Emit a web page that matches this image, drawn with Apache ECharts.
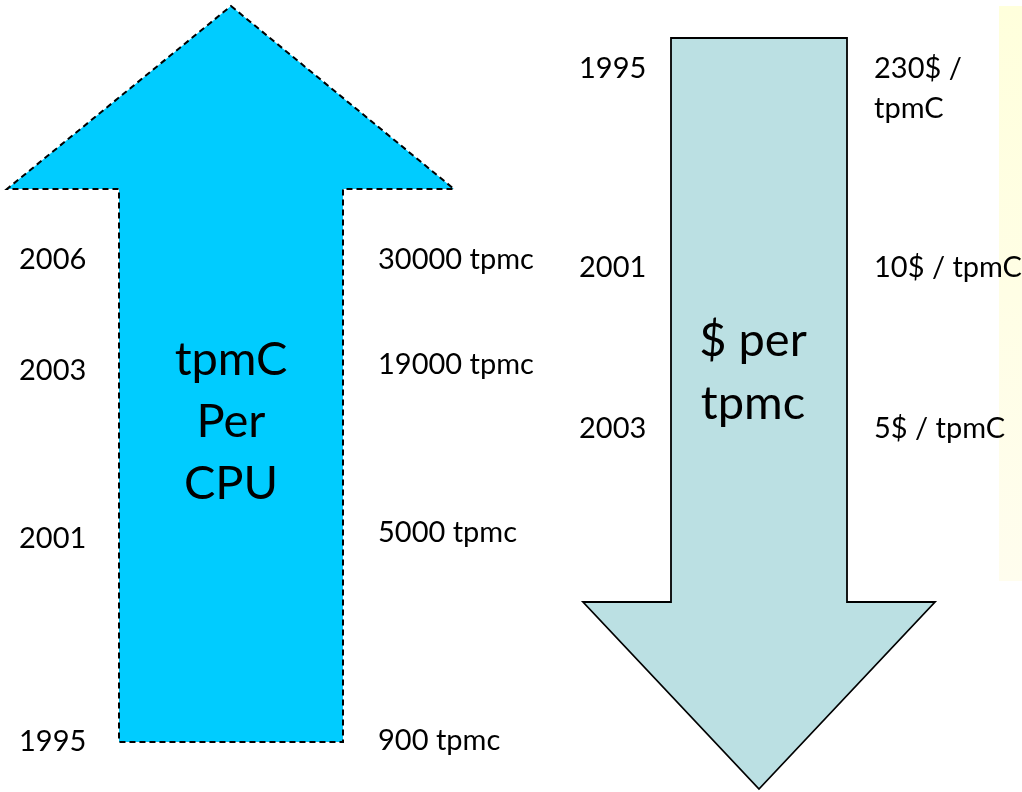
<!DOCTYPE html>
<html>
<head>
<meta charset="utf-8">
<script src="https://cdn.jsdelivr.net/npm/echarts@6/dist/echarts.min.js"></script>
<style>
  html, body { margin: 0; padding: 0; background: #ffffff; }
  #chart { width: 1022px; height: 792px; }
</style>
</head>
<body>
<div id="chart"></div>
<script>
// Throughput per CPU (tpmC) by year
const cpuYears = ['2006', '2003', '2001', '1995'];
const cpuTpmc = [30000, 19000, 5000, 900];

// Price per tpmC (USD) by year
const costYears = ['1995', '2001', '2003'];
const costPerTpmc = [230, 10, 5];

// Titles written inside the arrows
const cpuTitle = ['tpmC', 'Per', 'CPU'];
const costTitle = ['$ per', 'tpmc'];

// Layout (canvas units on a hidden 1022 x 792 grid)
const cpuRowY = [260, 371, 539, 742];
const cpuValueRowY = [260, 365, 533, 741];
const costRowY = [69, 268, 429];

const upArrow = { tipX: 231, tipY: 6, headY: 189, headL: 7, headR: 454, shaftL: 119, shaftR: 343, tailY: 742 };
const downArrow = { tipX: 759, tipY: 789, headY: 602, headL: 583, headR: 935, shaftL: 671, shaftR: 847, tailY: 38 };

const FONT = 'Lato, "Open Sans", sans-serif';

function arrowPoints(a) {
  return [
    [a.tipX, a.tipY], [a.headR, a.headY], [a.shaftR, a.headY], [a.shaftR, a.tailY],
    [a.shaftL, a.tailY], [a.shaftL, a.headY], [a.headL, a.headY]
  ];
}

const arrows = [
  { pts: arrowPoints(upArrow), fill: '#00CCFF', dash: [6, 4], width: 2 },
  { pts: arrowPoints(downArrow), fill: '#BBE0E3', dash: null, width: 1.8 }
];

const cpuValueText = cpuTpmc.map(v => v + ' tpmc');
const costValueText = costPerTpmc.map((v, i) => i === 0 ? v + '$ /\ntpmC' : v + '$ / tpmC');

// Text items: [x, y, text, align, size, lineHeight]
const textItems = [];
cpuYears.forEach((y, i) => textItems.push([19, cpuRowY[i], y, 'left', 29, 34]));
cpuValueText.forEach((t, i) => textItems.push([378, cpuValueRowY[i], t, 'left', 29, 34]));
costYears.forEach((y, i) => textItems.push([579, costRowY[i], y, 'left', 29, 34]));
costValueText.forEach((t, i) => textItems.push([874, i === 0 ? costRowY[i] + 20 : costRowY[i], t, 'left', 29, 40]));
textItems.push([231, 422, cpuTitle.join('\n'), 'center', 47, 62]);
textItems.push([753, 372, costTitle.join('\n'), 'center', 47, 63]);

const chart = echarts.init(document.getElementById('chart'), null, { renderer: 'canvas' });

chart.setOption({
  backgroundColor: '#ffffff',
  animation: false,
  grid: { left: 0, right: 0, top: 0, bottom: 0 },
  xAxis: { type: 'value', min: 0, max: 1022, show: false },
  yAxis: { type: 'value', min: 0, max: 792, inverse: true, show: false },
  series: [
    {
      // pale yellow strip at the right edge
      type: 'custom',
      coordinateSystem: 'cartesian2d',
      data: [[999, 6, 1022, 581]],
      silent: true,
      z: 1,
      renderItem: function (params, api) {
        const p0 = api.coord([api.value(0), api.value(1)]);
        const p1 = api.coord([api.value(2), api.value(3)]);
        return {
          type: 'rect',
          shape: { x: p0[0], y: p0[1], width: p1[0] - p0[0], height: p1[1] - p0[1] },
          style: {
            fill: new echarts.graphic.LinearGradient(0, 0, 0, 1, [
              { offset: 0, color: '#FFFFDC' },
              { offset: 1, color: '#FFFDEE' }
            ])
          }
        };
      }
    },
    {
      type: 'custom',
      coordinateSystem: 'cartesian2d',
      data: arrows.map((a, i) => [i]),
      silent: true,
      z: 2,
      renderItem: function (params, api) {
        const a = arrows[api.value(0)];
        const pts = a.pts.map(p => api.coord(p));
        return {
          type: 'polygon',
          shape: { points: pts },
          style: {
            fill: a.fill,
            stroke: '#000000',
            lineWidth: a.width,
            lineDash: a.dash,
            lineJoin: 'miter'
          }
        };
      }
    },
    {
      type: 'custom',
      coordinateSystem: 'cartesian2d',
      data: textItems.map((t, i) => [t[0], t[1], i]),
      silent: true,
      z: 3,
      renderItem: function (params, api) {
        const t = textItems[api.value(2)];
        const p = api.coord([api.value(0), api.value(1)]);
        return {
          type: 'text',
          x: p[0],
          y: p[1],
          style: {
            text: t[2],
            fill: '#000000',
            font: t[4] + 'px ' + FONT,
            lineHeight: t[5],
            align: t[3],
            verticalAlign: 'middle'
          }
        };
      }
    }
  ]
});
</script>
</body>
</html>
